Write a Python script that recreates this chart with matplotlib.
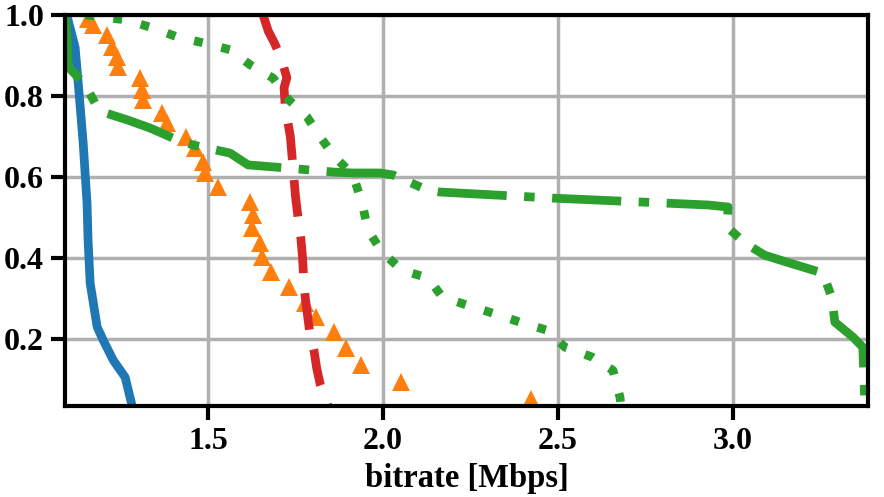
import matplotlib
matplotlib.use("Agg")
import matplotlib.pyplot as plt

plt.rcParams['font.family'] = ['Liberation Serif', 'DejaVu Serif']
plt.rcParams['font.weight'] = 'bold'
plt.rcParams['font.size'] = 23

# CCDF curves: bitrate [Mbps] vs fraction
blue_x = [1.096, 1.12, 1.131, 1.143, 1.154, 1.157, 1.163, 1.183, 1.2, 1.229, 1.263, 1.283]
blue_y = [1.0, 0.92, 0.81, 0.684, 0.536, 0.444, 0.338, 0.23, 0.198, 0.148, 0.106, 0.035]

tri_x = [1.157, 1.171, 1.211, 1.226, 1.24, 1.243, 1.306, 1.311, 1.314, 1.369, 1.383,
         1.437, 1.463, 1.486, 1.491, 1.529, 1.62, 1.629, 1.626, 1.649, 1.654, 1.68,
         1.731, 1.777, 1.809, 1.86, 1.894, 1.937, 2.051, 2.423]
tri_y = [0.99, 0.975, 0.95, 0.92, 0.896, 0.872, 0.844, 0.815, 0.79, 0.758, 0.733,
         0.699, 0.672, 0.637, 0.61, 0.575, 0.538, 0.506, 0.474, 0.437, 0.402, 0.365,
         0.328, 0.289, 0.254, 0.217, 0.178, 0.136, 0.094, 0.052]

red_x = [1.657, 1.672, 1.69, 1.71, 1.725, 1.717, 1.72, 1.727, 1.735, 1.74, 1.745, 1.75,
         1.757, 1.765, 1.77, 1.773, 1.778, 1.784, 1.79, 1.803, 1.81, 1.82, 1.843]
red_y = [1.0, 0.96, 0.93, 0.89, 0.845, 0.82, 0.78, 0.74, 0.70, 0.65, 0.6, 0.55,
         0.5, 0.45, 0.4, 0.35, 0.3, 0.26, 0.22, 0.17, 0.13, 0.09, 0.035]

dot_x = [1.15, 1.191, 1.263, 1.334, 1.411, 1.486, 1.563, 1.62, 1.686, 1.731, 1.783, 1.82,
         1.863, 1.914, 1.94, 1.957, 1.997, 2.054, 2.129, 2.169, 2.24, 2.314, 2.391,
         2.469, 2.52, 2.597, 2.657, 2.677, 2.68]
dot_y = [1.0, 0.995, 0.988, 0.97, 0.946, 0.931, 0.914, 0.877, 0.844, 0.79, 0.748, 0.699,
         0.649, 0.605, 0.536, 0.469, 0.415, 0.37, 0.351, 0.304, 0.284, 0.264, 0.242,
         0.222, 0.18, 0.156, 0.123, 0.057, 0.035]

dd_x = [1.091, 1.097, 1.1, 1.149, 1.183, 1.2, 1.269, 1.334, 1.4, 1.457, 1.563, 1.614,
        1.686, 1.863, 1.914, 1.991, 2.029, 2.126, 2.163, 2.486, 2.8, 2.929, 2.986,
        2.983, 3.034, 3.091, 3.154, 3.257, 3.283, 3.291, 3.343, 3.371, 3.377]
dd_y = [1.0, 0.943, 0.872, 0.827, 0.773, 0.76, 0.741, 0.721, 0.696, 0.679, 0.659, 0.63,
        0.625, 0.612, 0.61, 0.61, 0.605, 0.568, 0.563, 0.548, 0.536, 0.531, 0.526,
        0.477, 0.437, 0.407, 0.39, 0.363, 0.301, 0.242, 0.205, 0.18, 0.035]

fig = plt.figure(figsize=(8.84, 4.97), dpi=100)
ax = fig.add_axes([0.0735, 0.183, 0.9085, 0.787])

lw = 6.3
ax.plot(blue_x, blue_y, color='tab:blue', lw=lw)
ax.plot(tri_x, tri_y, '^', color='tab:orange', ms=12.5, mew=0)
ax.plot(red_x, red_y, color='tab:red', lw=lw, dashes=(4.2, 2.3))
ax.plot(dot_x, dot_y, color='tab:green', lw=lw, dashes=(1, 2.2))
ax.plot(dd_x, dd_y, color='tab:green', lw=lw, dashes=(7.9, 2.0, 1.2, 2.0))

ax.set_xlim(1.091, 3.386)
ax.set_ylim(0.035, 1.0)
ax.set_xticks([1.5, 2.0, 2.5, 3.0])
ax.set_yticks([0.2, 0.4, 0.6, 0.8, 1.0])
ax.grid(True, color='#b0b0b0', lw=2.5)
ax.set_axisbelow(True)
for s in ax.spines.values():
    s.set_linewidth(3)
ax.tick_params(length=10, width=3, pad=5)
ax.set_xlabel('bitrate [Mbps]', fontsize=23.5, fontweight='bold', labelpad=5)

fig.savefig('out.png', dpi=100)
